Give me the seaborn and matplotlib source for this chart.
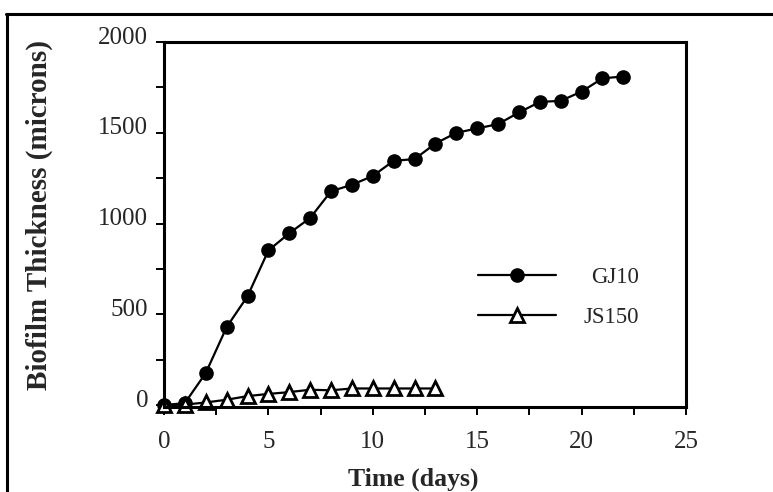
import numpy as np
import pandas as pd
import matplotlib
matplotlib.use("Agg")
import matplotlib.pyplot as plt
import matplotlib.transforms as mtransforms
from matplotlib.lines import Line2D
import seaborn as sns

# ---- data ----
days_gj10 = list(range(0, 23))
gj10 = [0, 12, 177, 430, 600, 852, 947, 1031, 1178, 1214, 1262, 1346, 1355,
        1441, 1500, 1524, 1548, 1612, 1670, 1676, 1727, 1800, 1810]
days_js150 = list(range(0, 14))
js150 = [0, 3, 15, 30, 50, 62, 72, 85, 82, 92, 92, 92, 92, 92]

x_ticks = [0, 5, 10, 15, 20, 25]
y_ticks = [0, 500, 1000, 1500, 2000]
x_label = "Time (days)"
y_label = "Biofilm Thickness (microns)"
labels = ["GJ10", "JS150"]

sns.set_style("white")
plt.rcParams["font.family"] = ["Liberation Serif", "DejaVu Serif"]

fig = plt.figure(figsize=(7.73, 4.92), dpi=100)
ax = fig.add_axes([164 / 773, 1 - 407 / 492, (686 - 164) / 773, (407 - 42) / 492])

df1 = pd.DataFrame({"day": days_gj10, "val": gj10})
df2 = pd.DataFrame({"day": days_js150, "val": js150})

sns.lineplot(data=df1, x="day", y="val", ax=ax, color="black", marker="o",
             markersize=9.5, markeredgecolor="black", markerfacecolor="black",
             markeredgewidth=1, linewidth=1.6, label=labels[0])
sns.lineplot(data=df2, x="day", y="val", ax=ax, color="black", marker="^",
             markersize=10.5, markeredgecolor="black", markerfacecolor="white",
             markeredgewidth=2.0, linewidth=1.6, label=labels[1])
for ln in ax.lines:
    ln.set_clip_on(False)

ax.set_xlim(0, 25)
ax.set_ylim(-10, 2000)
ax.set_xticks(x_ticks)
ax.set_yticks(y_ticks)
ax.set_xticks(np.arange(0, 25.1, 2.5), minor=True)
ax.set_yticks(np.arange(0, 2001, 250), minor=True)
ax.tick_params(axis="both", which="both", direction="out", length=5.5, width=1.4,
               color="black", labelsize=18, left=True, bottom=True)
ax.tick_params(axis="x", which="major", pad=12)
ax.tick_params(axis="y", which="major", pad=6)

offset = mtransforms.ScaledTranslation(0, 5 / 72, fig.dpi_scale_trans)
for lab in ax.get_yticklabels():
    lab.set_transform(lab.get_transform() + offset)

for s in ax.spines.values():
    s.set_visible(True)
    s.set_color("black")
    s.set_linewidth(2.2)

ax.set_xlabel(x_label, fontsize=18.5, fontweight="bold")
ax.set_ylabel(y_label, fontsize=21, fontweight="bold")
ax.xaxis.set_label_coords(0.477, -0.165)
ax.yaxis.set_label_coords(-0.212, 0.525)

leg = ax.legend(loc="center left", bbox_to_anchor=(0.6015, 0.300), frameon=False,
                fontsize=16.5, handlelength=3.4, handletextpad=1.2,
                labelspacing=0.85, borderpad=0, borderaxespad=0)

# right-align legend texts
fig.canvas.draw()
renderer = fig.canvas.get_renderer()
texts = leg.get_texts()
widths = [t.get_window_extent(renderer).width for t in texts]
wmax = max(widths)
for t, w in zip(texts, widths):
    t.set_x(wmax - w)

# outer frame
fig.add_artist(Line2D([6 / 773, 1.0], [1 - 14 / 492, 1 - 14 / 492],
                      transform=fig.transFigure, color="black", linewidth=2.2))
fig.add_artist(Line2D([7 / 773, 7 / 773], [0, 1 - 14 / 492],
                      transform=fig.transFigure, color="black", linewidth=2.2))

fig.savefig("out.png", dpi=100)
